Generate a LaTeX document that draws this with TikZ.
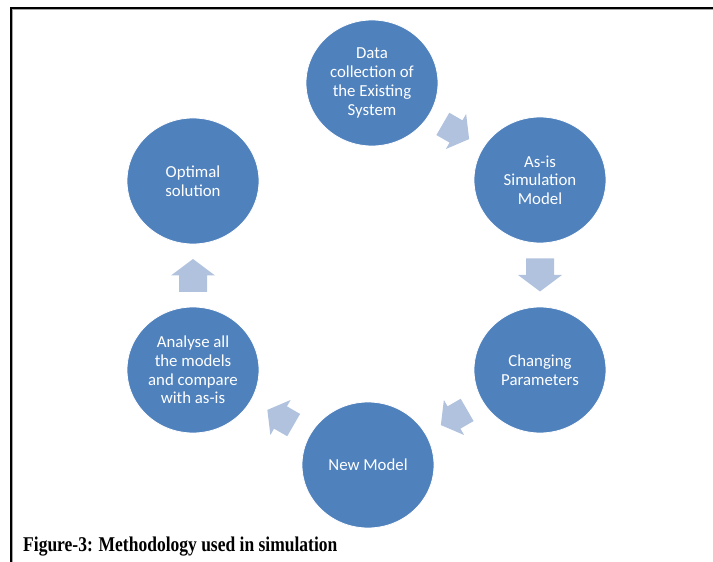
\documentclass[tikz,border=0pt]{standalone}
\usepackage{fontspec}
\setmainfont{Liberation Serif}
\newfontfamily\calib{Carlito}
\usetikzlibrary{shapes.geometric,calc}
\definecolor{circfill}{HTML}{4F81BD}
\definecolor{arrfill}{HTML}{B0C2DE}
\begin{document}
\begin{tikzpicture}[x=1pt,y=1pt,
  stage/.style={ellipse, fill=circfill, draw=white, line width=0.8pt,
    minimum width=132pt, minimum height=126pt, inner sep=0pt,
    text=white, align=center, font=\calib\fontsize{16.8}{18.7}\selectfont},
  blockarr/.pic={\fill[arrfill] (-16.5,-14) -- (0,-14) -- (0,-22) -- (16.5,0)
    -- (0,22) -- (0,14) -- (-16.5,14) -- cycle;},
  framebk/.style={line width=2pt, black},
  framegr/.style={line width=0.8pt, black!35}]
\useasboundingbox (0,0) rectangle (713,562);
% frame
\draw[framegr] (12.8,0) -- (12.8,552.3) -- (713,552.3);
\draw[framebk] (11,0) -- (11,554) -- (713,554);
% stages
\node[stage] (c1) at (372,479) {Data\\collection of\\the Existing\\System};
\node[stage] (c2) at (540,382) {As-is\\Simulation\\Model};
\node[stage] (c3) at (540,192) {Changing\\Parameters};
\node[stage] (c4) at (368,97) {New Model};
\node[stage] (c5) at (193,192) {Analyse all\\the models\\and compare\\with as-is};
\node[stage] (c6) at (193,381) {Optimal\\solution};
% block arrows
\pic[rotate=-30, scale=0.92] at ($(c1)!0.5!(c2)$) {blockarr};
\pic[rotate=-90] at ($(c2)!0.5!(c3)$) {blockarr};
\pic[rotate=-150, scale=0.92] at ($(c3)!0.5!(c4)$) {blockarr};
\pic[rotate=150, scale=0.92] at ($(c4)!0.5!(c5)$) {blockarr};
\pic[rotate=90] at ($(c5)!0.5!(c6)$) {blockarr};
% caption
\node[anchor=base west, inner sep=0pt] (cap) at (23,10)
  {\scalebox{1}[1.2]{\fontsize{17.5}{20}\selectfont\bfseries Figure-3: Methodology used in simulation}};
\end{tikzpicture}
\end{document}
